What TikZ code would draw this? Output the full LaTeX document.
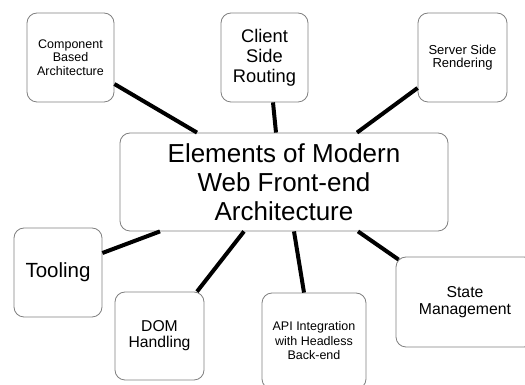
\documentclass[tikz,border=0pt]{standalone}
\usepackage{fontspec}
\setmainfont{Liberation Sans}
\usetikzlibrary{positioning, calc}
\tikzset{
  topic/.style={
    rectangle, draw=gray, line width=0.8pt, rounded corners=10pt,
    fill=white, align=center, inner sep=0pt
  },
  hub/.style={
    topic, minimum width=328pt, minimum height=98pt,
    font=\fontsize{26}{29}\selectfont
  },
  link/.style={
    line width=4pt, black
  }
}
\begin{document}
\begin{tikzpicture}[x=1pt, y=1pt]
  \useasboundingbox (0,0) rectangle (525,385);
  \node[hub](elements) at (284,203){Elements of Modern\\Web Front-end\\Architecture};
  \node[topic, minimum width=87pt, minimum height=89pt, font=\fontsize{12.5}{13.5}\selectfont](comp) at (70.5,327.5){Component\\Based\\Architecture};
  \node[topic, minimum width=87pt, minimum height=89pt, font=\fontsize{18.3}{20}\selectfont](csr) at (264.5,327.5){Client\\Side\\Routing};
  \node[topic, minimum width=89pt, minimum height=89pt, font=\fontsize{13}{12.5}\selectfont](ssr) at (462.5,327.5){Server Side\\Rendering};
  \node[topic, minimum width=88pt, minimum height=89pt, font=\fontsize{20.5}{22}\selectfont](tooling) at (58,112.5){Tooling};
  \node[topic, minimum width=89pt, minimum height=88pt, font=\fontsize{15.7}{16}\selectfont](dom) at (159.5,49){DOM\\Handling};
  \node[topic, minimum width=104pt, minimum height=96pt, font=\fontsize{12.5}{14.5}\selectfont](api) at (314,44){API Integration\\with Headless\\Back-end};
  \node[topic, minimum width=138pt, minimum height=90pt, font=\fontsize{15.8}{17}\selectfont](state) at (465,83){State\\Management};
  % spokes
  \draw[link] ([yshift=-26.5pt]comp.east) -- ([xshift=-87pt]elements.north);
  \draw[link] ([xshift=8.5pt]csr.south) -- ([xshift=-8pt]elements.north);
  \draw[link] ([yshift=-30.5pt]ssr.west) -- ([xshift=73pt]elements.north);
  \draw[link] ([yshift=19.5pt]tooling.east) -- ([xshift=-124pt]elements.south);
  \draw[link] ([xshift=37.5pt]dom.north) -- ([xshift=-40pt]elements.south);
  \draw[link] ([xshift=-10pt]api.north) -- ([xshift=10pt]elements.south);
  \draw[link] ([shift={(3pt,-3pt)}]state.north west) -- ([xshift=74pt]elements.south);
\end{tikzpicture}
\end{document}
